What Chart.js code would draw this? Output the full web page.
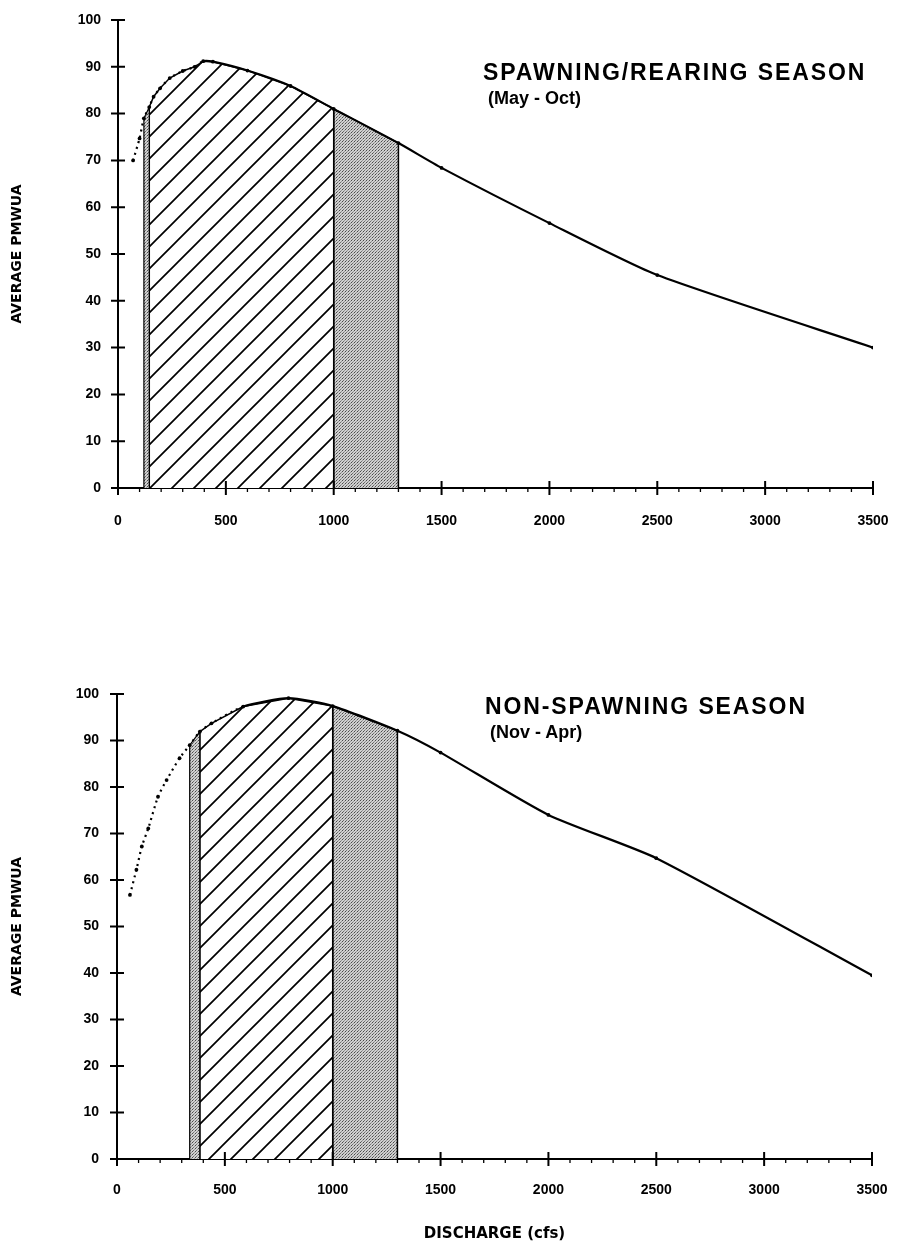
<!DOCTYPE html>
<html>
<head>
<meta charset="utf-8">
<script src="https://cdn.jsdelivr.net/npm/chart.js@4/dist/chart.umd.min.js"></script>
<style>
body { margin: 0; background: #fff; width: 899px; height: 1249px; position: relative; overflow: hidden; font-family: "Liberation Sans", Arial, sans-serif; }
canvas { position: absolute; left: 0; }
#c1 { top: 0; }
#c2 { top: 620px; }
.cap { position: absolute; font-weight: bold; color: #000; white-space: nowrap; line-height: 1; }
.cap .t { display: block; font-size: 23px; letter-spacing: 1.9px; }
.cap .s { display: block; font-size: 18px; margin-left: 5px; margin-top: 5px; }
</style>
</head>
<body>
<canvas id="c1" width="899" height="560"></canvas>
<canvas id="c2" width="899" height="629"></canvas>
<div class="cap" style="left:483px; top:61px;"><span class="t">SPAWNING/REARING SEASON</span><span class="s">(May - Oct)</span></div>
<div class="cap" style="left:485px; top:695px;"><span class="t">NON-SPAWNING SEASON</span><span class="s">(Nov - Apr)</span></div>
<script>
// tick values
const xTickValues = [0, 500, 1000, 1500, 2000, 2500, 3000, 3500];
const yTickValues = [0, 10, 20, 30, 40, 50, 60, 70, 80, 90, 100];

// spawning / rearing season (May - Oct)
const spawnX = [70, 100, 120, 145, 165, 195, 240, 300, 355, 395, 440, 600, 800, 1000, 1300, 1500, 2000, 2500, 3500];
const spawnY = [70, 74.7, 79, 81.4, 83.6, 85.4, 87.6, 89.1, 90, 91.2, 91.1, 89.2, 85.9, 81, 73.7, 68.4, 56.6, 45.5, 30];
// band edges: stipple strip, hatched, stippled
const spawnBands = [120, 145, 1000, 1300];

// non-spawning season (Nov - Apr)
const nonX = [60, 90, 115, 145, 190, 230, 290, 337, 384, 438, 585, 795, 1000, 1300, 1500, 2000, 2500, 3500];
const nonY = [56.8, 62.2, 67.2, 71.1, 77.9, 81.5, 86.2, 89, 91.9, 93.7, 97.3, 99.1, 97.4, 92.1, 87.4, 74, 64.7, 39.5];
const nonBands = [337, 384, 1000, 1300];

const FONT = "'Liberation Sans', Arial, sans-serif";
const TITLE_FONT = "'DejaVu Sans', sans-serif";

function makeHatch() {
    const s = 22;
    const c = document.createElement("canvas");
    c.width = s; c.height = s;
    const g = c.getContext("2d");
    g.fillStyle = "#fff";
    g.fillRect(0, 0, s, s);
    g.strokeStyle = "#000";
    g.lineWidth = 1.7;
    g.beginPath();
    g.moveTo(-2, s + 2); g.lineTo(s + 2, -2);
    g.moveTo(s - 2, s + 2); g.lineTo(s + 2, s - 2);
    g.moveTo(-2, 2); g.lineTo(2, -2);
    g.stroke();
    return g.createPattern(c, "repeat");
}

function makeStipple() {
    const c = document.createElement("canvas");
    c.width = 3; c.height = 3;
    const g = c.getContext("2d");
    g.fillStyle = "#d0d0d0";
    g.fillRect(0, 0, 3, 3);
    g.fillStyle = "#4a4a4a";
    g.fillRect(0, 0, 1, 1);
    g.fillStyle = "#707070";
    g.fillRect(1, 2, 1, 1);
    g.fillStyle = "#959595";
    g.fillRect(2, 1, 1, 1);
    return g.createPattern(c, "repeat");
}

const hatch = makeHatch();
const stipple = makeStipple();

function band(xs, ys, a, b) {
    const pts = [{ x: a, y: 0 }];
    xs.forEach((x, i) => { if (x >= a && x <= b) pts.push({ x: x, y: ys[i] }); });
    pts.push({ x: b, y: 0 });
    return pts;
}

const crossTicks = {
    id: "crossTicks",
    afterDraw(chart) {
        const ctx = chart.ctx, xs = chart.scales.x, ys = chart.scales.y;
        const x0 = xs.left, y0 = ys.bottom;
        ctx.save();
        ctx.strokeStyle = "#000";
        ctx.lineWidth = 2;
        ctx.beginPath();
        ys.ticks.forEach(t => {
            const y = ys.getPixelForValue(t.value);
            ctx.moveTo(x0 - 7, y); ctx.lineTo(x0 + 7, y);
        });
        xs.ticks.forEach(t => {
            const x = xs.getPixelForValue(t.value);
            ctx.moveTo(x, y0 - 7); ctx.lineTo(x, y0 + 7);
        });
        ctx.stroke();
        ctx.lineWidth = 1.3;
        ctx.beginPath();
        for (let v = 100; v < xs.max; v += 100) {
            if (v % 500 === 0) continue;
            const x = xs.getPixelForValue(v);
            ctx.moveTo(x, y0); ctx.lineTo(x, y0 + 4);
        }
        ctx.stroke();
        ctx.restore();
    }
};

function makeChart(id, xs, ys, bands, dottedEnd, cfg) {
    const curve = xs.map((x, i) => ({ x: x, y: ys[i] }));
    new Chart(document.getElementById(id), {
        type: "line",
        data: {
            datasets: [
                {
                    data: curve,
                    borderColor: "#000",
                    borderWidth: 2.2,
                    pointRadius: 1.9,
                    pointBackgroundColor: "#000",
                    pointBorderWidth: 0,
                    tension: 0.2,
                    fill: false,
                    segment: {
                        borderDash: c => c.p1.parsed.x <= dottedEnd ? [2, 4] : undefined
                    }
                },
                {
                    data: band(xs, ys, bands[0], bands[1]),
                    borderColor: "#000", borderWidth: 1.2, pointRadius: 0,
                    backgroundColor: stipple, fill: "origin", tension: 0
                },
                {
                    data: band(xs, ys, bands[1], bands[2]),
                    borderColor: "#000", borderWidth: 1.5, pointRadius: 0,
                    backgroundColor: hatch, fill: "origin", tension: 0
                },
                {
                    data: band(xs, ys, bands[2], bands[3]),
                    borderColor: "#000", borderWidth: 1.5, pointRadius: 0,
                    backgroundColor: stipple, fill: "origin", tension: 0
                }
            ]
        },
        options: {
            responsive: false,
            animation: false,
            layout: { padding: { top: cfg.top, right: cfg.right, left: 0, bottom: 0 } },
            plugins: { legend: { display: false }, tooltip: { enabled: false } },
            scales: {
                x: {
                    type: "linear", min: 0, max: 3500,
                    grid: { display: false },
                    border: { display: true, color: "#000", width: 2 },
                    afterBuildTicks: s => { s.ticks = xTickValues.map(v => ({ value: v })); },
                    afterFit: s => { s.height = cfg.xHeight; s.paddingRight = 0; s.paddingLeft = 0; },
                    ticks: {
                        color: "#000", padding: cfg.xPad, maxRotation: 0,
                        callback: v => String(v),
                        font: { family: FONT, size: 14, weight: "bold" }
                    },
                    title: {
                        display: cfg.xTitle, text: "DISCHARGE (cfs)", color: "#000",
                        padding: { top: 0, bottom: 6 },
                        font: { family: TITLE_FONT, size: 15, weight: "bold" }
                    }
                },
                y: {
                    min: 0, max: 100,
                    grid: { display: false },
                    border: { display: true, color: "#000", width: 2 },
                    afterBuildTicks: s => { s.ticks = yTickValues.map(v => ({ value: v })); },
                    afterFit: s => { s.width = cfg.yWidth; s.paddingTop = 0; s.paddingBottom = 0; },
                    ticks: {
                        color: "#000", padding: cfg.yPad,
                        font: { family: FONT, size: 14, weight: "bold" }
                    },
                    title: {
                        display: true, text: "AVERAGE PMWUA", color: "#000",
                        padding: { top: 9, bottom: 0 },
                        font: { family: TITLE_FONT, size: 14, weight: "bold" }
                    }
                }
            }
        },
        plugins: [crossTicks]
    });
}

makeChart("c1", spawnX, spawnY, spawnBands, 400,
    { top: 20, right: 26, xHeight: 72, yWidth: 118, xPad: 17, yPad: 9, xTitle: false });
makeChart("c2", nonX, nonY, nonBands, 600,
    { top: 74, right: 27, xHeight: 90, yWidth: 117, xPad: 15, yPad: 10, xTitle: true });
</script>
</body>
</html>
